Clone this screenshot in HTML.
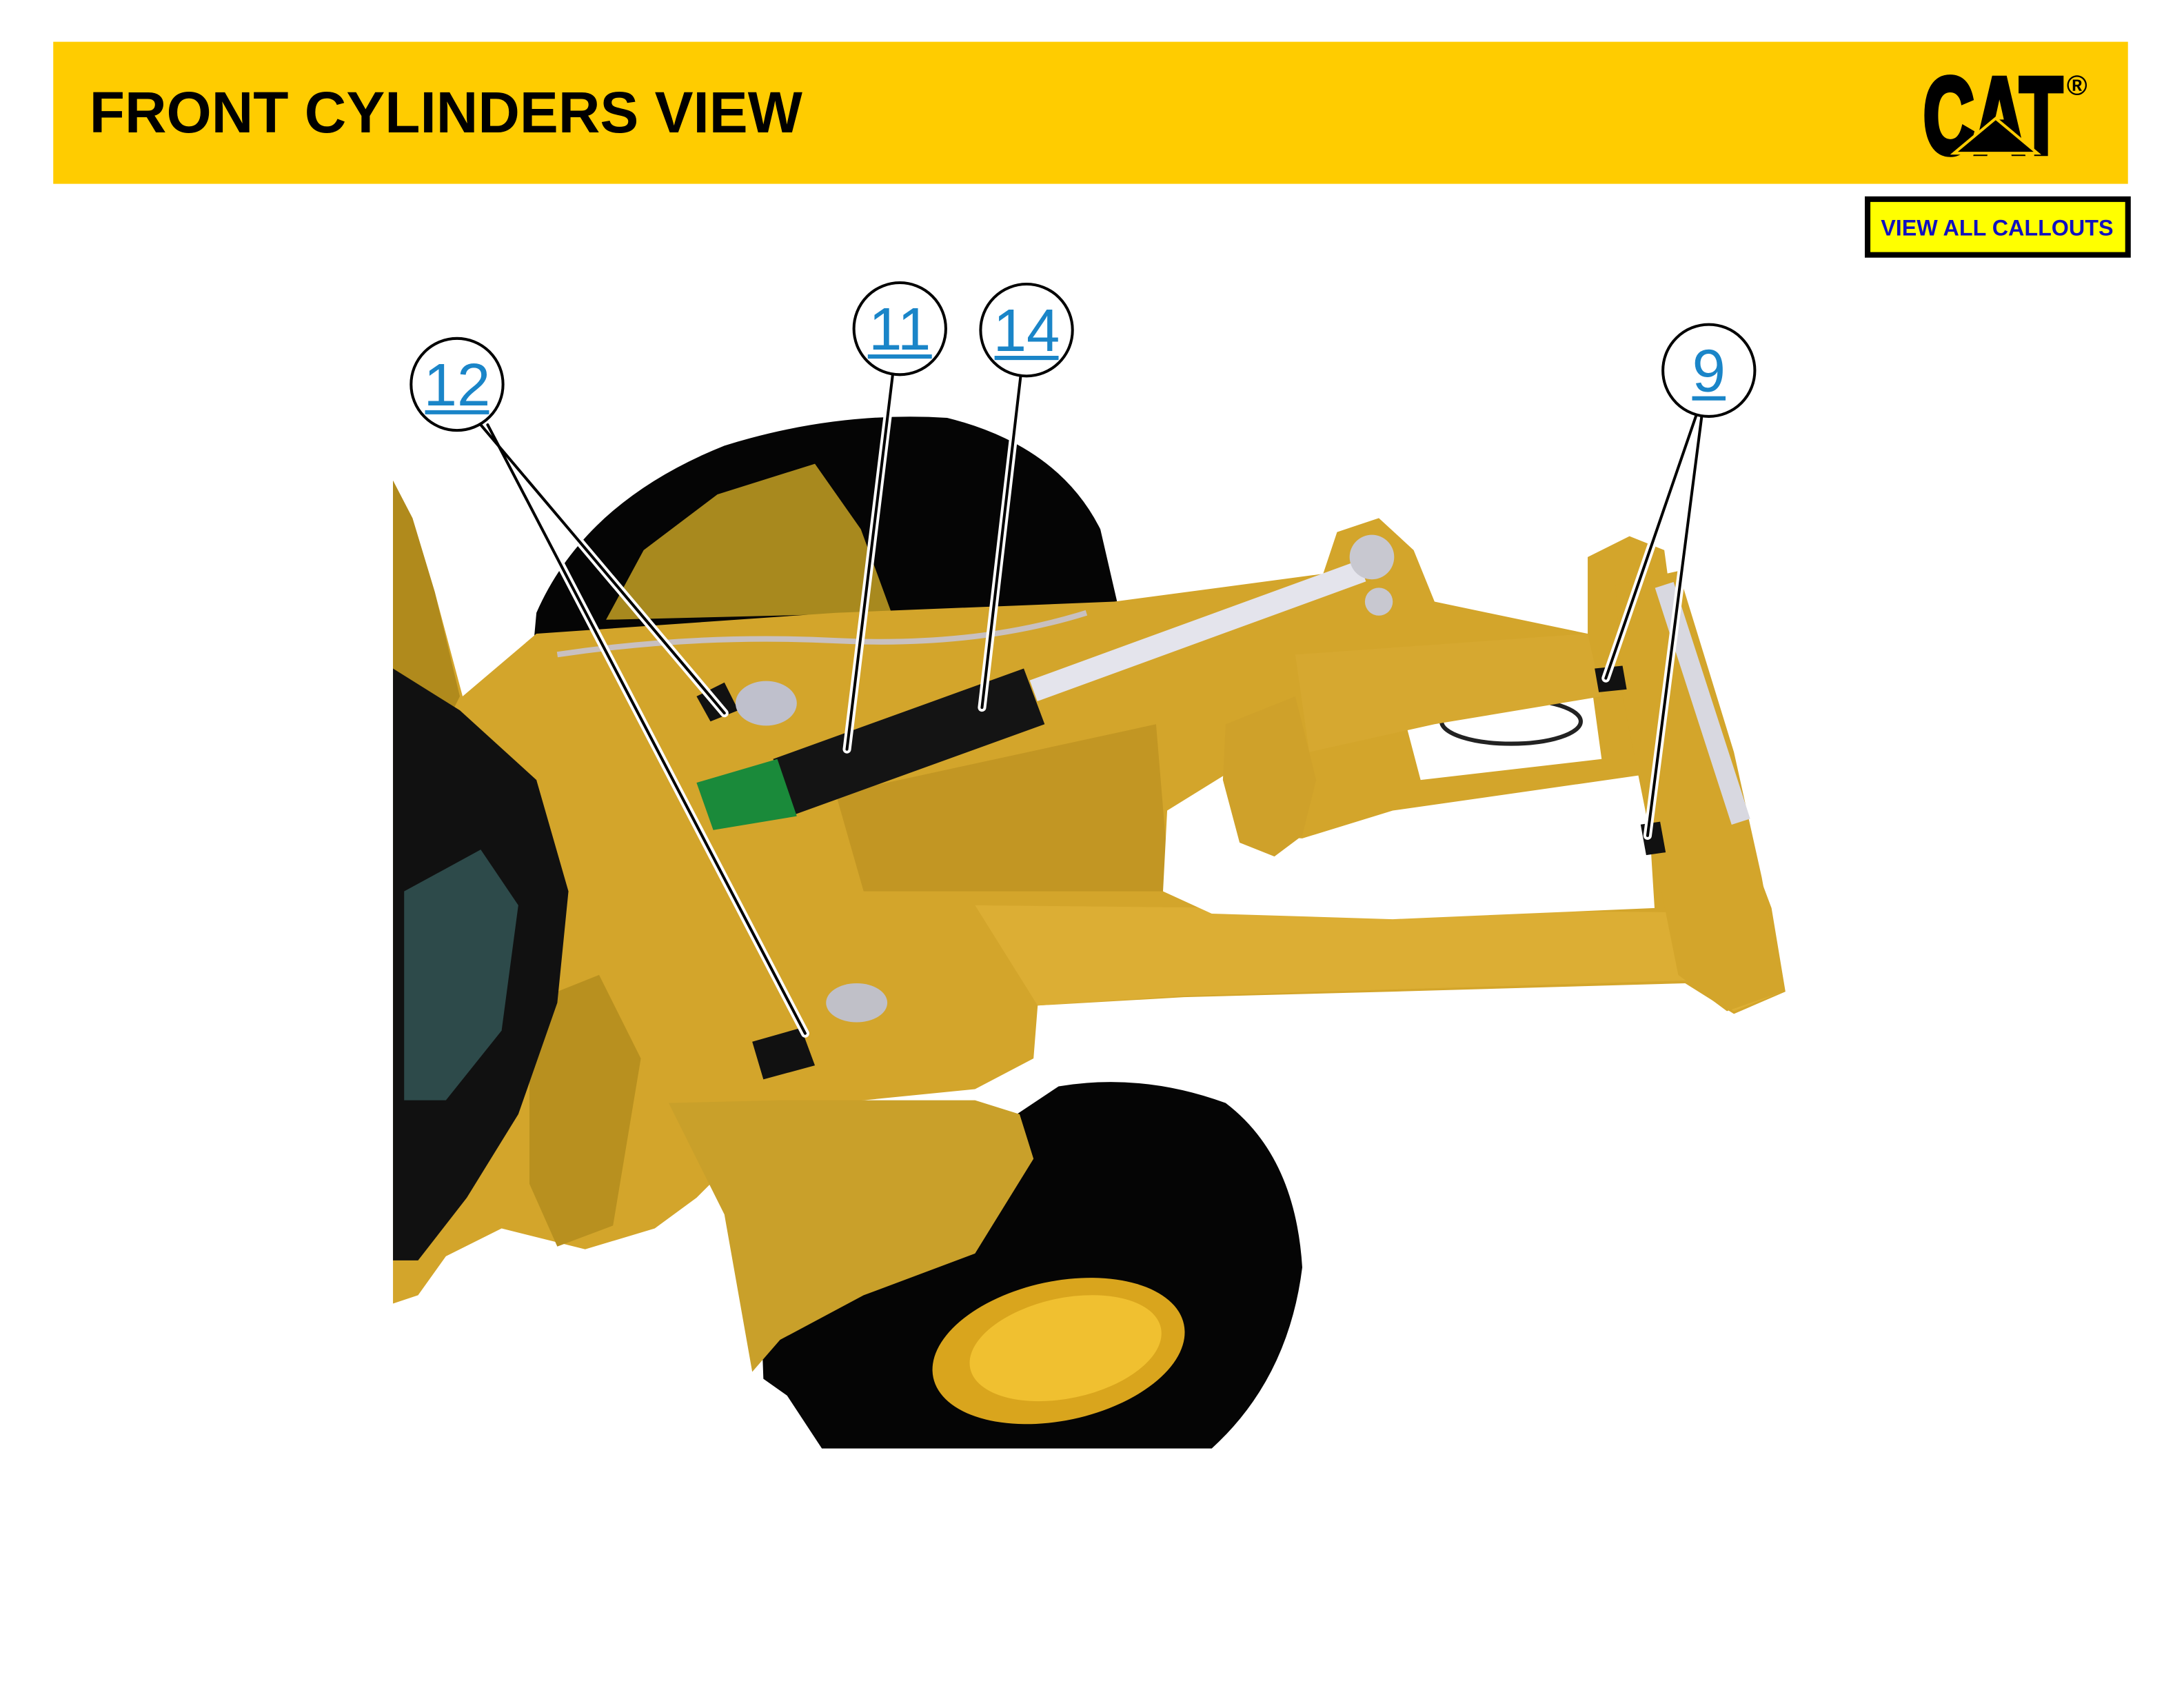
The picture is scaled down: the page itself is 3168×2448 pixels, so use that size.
<!DOCTYPE html>
<html><head><meta charset="utf-8"><style>
html,body{margin:0;padding:0;background:#fff;}
svg{display:block;}
</style></head><body>
<svg width="3168" height="2448" viewBox="0 0 1568 1212" xmlns="http://www.w3.org/2000/svg" font-family="Liberation Sans, sans-serif">
<rect width="1568" height="1212" fill="#fff"/>
<!-- header -->
<rect x="38" y="30" width="1490" height="102" fill="#ffcc00"/>
<text x="64" y="95" font-size="42" font-weight="bold" fill="#000" textLength="512" lengthAdjust="spacingAndGlyphs">FRONT CYLINDERS VIEW</text>
<text x="1381" y="110" font-size="78" font-weight="bold" fill="#000" stroke="#000" stroke-width="4" textLength="100" lengthAdjust="spacingAndGlyphs">CAT</text>
<polygon points="1403,110 1433,85 1463,110" fill="#000" stroke="#ffcc00" stroke-width="2"/>
<text x="1484" y="68" font-size="20" font-weight="bold" fill="#000">®</text>
<rect x="1341" y="143" width="187" height="40" fill="#ffff00" stroke="#000" stroke-width="4"/>
<text x="1434" y="169" font-size="16" font-weight="bold" fill="#1010c0" text-anchor="middle">VIEW ALL CALLOUTS</text>

<!-- rear tire -->
<path d="M383,462 L385,440 Q420,360 520,320 Q600,295 680,300 Q760,320 790,380 L802,432 Z" fill="#050505"/>
<polygon points="435,445 462,395 515,355 585,333 618,380 640,440" fill="#a8891e"/>
<!-- main yellow silhouette -->
<polygon points="282,345 296,372 312,425 332,500 385,455 600,440 800,432 950,412 960,382 990,372 1015,395 1030,432 1140,455 1140,400 1170,385 1195,395 1200,432 1240,540 1260,620 1272,652 1282,712 1245,728 1210,706 1000,712 850,716 745,722 742,760 700,782 600,792 540,820 500,860 470,882 420,897 360,882 320,902 300,930 282,936" fill="#d3a52b"/>
<polygon points="282,345 296,372 312,425 330,500 300,560 282,560" fill="#b08a1c"/>
<polygon points="600,570 830,520 840,640 620,640" fill="#c29623"/>
<polygon points="700,650 1200,655 1270,680 1280,712 1245,726 1210,704 850,715 745,722" fill="#dcae34"/>
<polygon points="380,720 430,700 460,760 440,880 400,895 380,850" fill="#b8901f"/>
<polygon points="838,582 880,556 905,600 935,602 1000,582 1182,556 1188,652 1000,660 870,656 835,640" fill="#fff"/>
<polygon points="1035,498 1140,472 1150,545 1020,560 1010,522" fill="#fff"/>
<ellipse cx="1085" cy="518" rx="50" ry="16" fill="none" stroke="#222" stroke-width="3"/>
<polygon points="880,520 930,500 945,560 935,600 915,615 890,605 878,560" fill="#cfa12a"/>
<polygon points="930,470 1140,455 1150,500 1030,520 940,540" fill="#d6a830"/>
<polygon points="1160,420 1205,410 1245,540 1265,630 1280,712 1240,726 1205,700 1185,600 1165,500" fill="#d3a52b"/>
<line x1="1195" y1="420" x2="1250" y2="590" stroke="#d8d8e0" stroke-width="14"/>
<!-- cab -->
<polygon points="282,480 330,510 385,560 408,640 400,720 372,800 335,860 300,905 282,905" fill="#111"/>
<polygon points="290,640 345,610 372,650 360,740 320,790 290,790" fill="#2d4a4a"/>
<!-- front tire -->
<path d="M520,840 L545,905 548,990 565,1002 590,1040 870,1040 Q925,990 935,910 Q930,830 880,792 Q820,770 760,780 L730,800 700,842 650,880 600,896 560,880 Z" fill="#050505"/>
<polygon points="480,792 560,790 700,790 732,800 742,832 700,900 620,930 560,962 540,985 520,872" fill="#c9a02a"/>
<ellipse cx="760" cy="970" rx="92" ry="50" transform="rotate(-12 760 970)" fill="#d9a51d"/>
<ellipse cx="765" cy="968" rx="70" ry="36" transform="rotate(-12 765 968)" fill="#f0c030"/>
<!-- cylinder -->
<line x1="742" y1="496" x2="978" y2="410" stroke="#e4e4ec" stroke-width="16"/>
<circle cx="985" cy="400" r="16" fill="#c8c8d0"/>
<circle cx="990" cy="432" r="10" fill="#c8c8d0"/>
<polygon points="555,545 735,480 750,520 570,585" fill="#141414"/>
<polygon points="500,562 558,545 572,586 512,596" fill="#1a8a3a"/>
<polygon points="500,500 520,490 530,510 510,518" fill="#111"/>
<ellipse cx="550" cy="505" rx="22" ry="16" fill="#bfc0cc"/>
<polygon points="540,748 575,738 585,765 548,775" fill="#111"/>
<ellipse cx="615" cy="720" rx="22" ry="14" fill="#c0c0c8"/>
<polygon points="1145,480 1165,478 1168,495 1148,497" fill="#111"/>
<polygon points="1178,592 1192,590 1196,612 1182,614" fill="#111"/>
<path d="M400,470 Q500,455 600,460 T780,440" fill="none" stroke="#c8c0c0" stroke-width="4"/>

<!-- leader lines -->
<g fill="none" stroke-linecap="round">
<g stroke="#fff" stroke-width="6">
<line x1="345" y1="305" x2="520" y2="512"/><line x1="350" y1="305" x2="578" y2="742"/>
<line x1="641" y1="268" x2="608" y2="538"/><line x1="733" y1="268" x2="705" y2="508"/>
<line x1="1218" y1="298" x2="1153" y2="487"/><line x1="1222" y1="298" x2="1183" y2="600"/>
</g>
<g stroke="#000" stroke-width="2">
<line x1="345" y1="305" x2="520" y2="512"/><line x1="350" y1="305" x2="578" y2="742"/>
<line x1="641" y1="268" x2="608" y2="538"/><line x1="733" y1="268" x2="705" y2="508"/>
<line x1="1218" y1="298" x2="1153" y2="487"/><line x1="1222" y1="298" x2="1183" y2="600"/>
</g>
</g>
<g fill="#fff" stroke="#000" stroke-width="2">
<circle cx="328" cy="276" r="33"/><circle cx="646" cy="236" r="33"/>
<circle cx="737" cy="237" r="33"/><circle cx="1227" cy="266" r="33"/>
</g>
<g fill="#1a85c8" font-size="43" text-anchor="middle">
<text x="328" y="291">12</text><text x="646" y="251">11</text>
<text x="737" y="252">14</text><text x="1227" y="281">9</text>
</g>
<g stroke="#1a85c8" stroke-width="3">
<line x1="305" y1="296" x2="351" y2="296"/><line x1="623" y1="256" x2="669" y2="256"/>
<line x1="714" y1="257" x2="760" y2="257"/><line x1="1215" y1="286" x2="1239" y2="286"/>
</g>
</svg>
</body></html>
